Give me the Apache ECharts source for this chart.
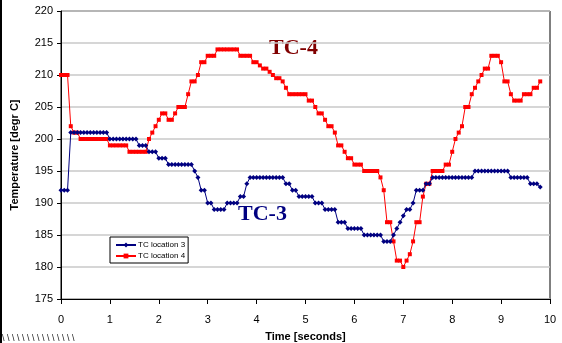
<!DOCTYPE html>
<html>
<head>
<meta charset="utf-8">
<script src="https://cdn.jsdelivr.net/npm/echarts@6/dist/echarts.min.js"></script>
<style>
  html, body { margin: 0; padding: 0; background: #fff; }
  #chart { width: 562px; height: 343px; }
</style>
</head>
<body>
<div id="chart"></div>
<script>
// Thermocouple readings, sampled every 1/15 s from t = 0 to 9.8 s
const sampleStep = 1 / 15;

const tcLocation3 = [
  192, 192, 192,
  201, 201, 201, 201, 201, 201, 201, 201, 201, 201, 201, 201,
  200, 200, 200, 200, 200, 200, 200, 200, 200,
  199, 199, 199,
  198, 198, 198,
  197, 197, 197,
  196, 196, 196, 196, 196, 196, 196, 196,
  195, 194, 192, 192, 190, 190,
  189, 189, 189, 189,
  190, 190, 190, 190,
  191, 191, 193,
  194, 194, 194, 194, 194, 194, 194, 194, 194, 194, 194,
  193, 193, 192, 192,
  191, 191, 191, 191, 191,
  190, 190, 190,
  189, 189, 189, 189,
  187, 187, 187,
  186, 186, 186, 186, 186,
  185, 185, 185, 185, 185, 185,
  184, 184, 184,
  185, 186, 187, 188, 189, 189, 190,
  192, 192, 192, 193, 193,
  194, 194, 194, 194, 194, 194, 194, 194, 194, 194, 194, 194, 194,
  195, 195, 195, 195, 195, 195, 195, 195, 195, 195, 195,
  194, 194, 194, 194, 194, 194,
  193, 193, 193,
  192.5
];

const tcLocation4 = [
  210, 210, 210,
  202, 201, 201,
  200, 200, 200, 200, 200, 200, 200, 200, 200,
  199, 199, 199, 199, 199, 199,
  198, 198, 198, 198, 198, 198,
  200, 201, 202, 203, 204, 204, 203, 203, 204,
  205, 205, 205, 207, 209, 209, 210, 212, 212,
  213, 213, 213,
  214, 214, 214, 214, 214, 214, 214,
  213, 213, 213, 213,
  212, 212, 211.5, 211, 211, 210.5, 210, 209.5, 209.5, 209, 208,
  207, 207, 207, 207, 207, 207,
  206, 206, 205, 204, 204, 203, 202, 202, 201,
  199, 199, 198, 197, 197,
  196, 196, 196,
  195, 195, 195, 195, 195,
  194, 192, 187, 187, 184, 181, 181, 180, 181, 182, 184, 187, 187, 191,
  193, 193, 195, 195, 195, 195, 196, 196, 198, 200, 201, 202,
  205, 205, 207, 208, 209, 210, 211, 211,
  213, 213, 213, 212, 209, 209, 207,
  206, 206, 206, 207, 207, 207, 208, 208, 209
];

const xTicks = { min: 0, max: 10, step: 1 };
const yTicks = { min: 175, max: 220, step: 5 };

const toPairs = vals => vals.map((v, i) => [+(i * sampleStep).toFixed(4), v]);

const FONT = '"Liberation Sans", Arial, sans-serif';
const SERIF = '"Liberation Serif", "Times New Roman", serif';

const chart = echarts.init(document.getElementById('chart'), null, { renderer: 'canvas' });

chart.setOption({
  animation: false,
  backgroundColor: '#ffffff',
  grid: {
    left: 61, right: 12, top: 11, bottom: 44,
    containLabel: false,
    outerBoundsMode: 'none',
    show: true, borderColor: '#000000', borderWidth: 1, backgroundColor: 'transparent'
  },
  xAxis: {
    type: 'value',
    min: xTicks.min, max: xTicks.max, interval: xTicks.step,
    name: 'Time [seconds]',
    nameLocation: 'middle',
    nameGap: 32,
    nameTextStyle: { fontFamily: FONT, fontSize: 11, fontWeight: 'bold', color: '#000' },
    axisLine: { lineStyle: { color: '#000', width: 1 } },
    axisTick: { show: true, inside: false, length: 5, lineStyle: { color: '#000' } },
    axisLabel: { fontFamily: FONT, fontSize: 11, color: '#000', margin: 15 },
    splitLine: { show: false }
  },
  yAxis: {
    type: 'value',
    min: yTicks.min, max: yTicks.max, interval: yTicks.step,
    name: 'Temperature [degr C]',
    nameLocation: 'middle',
    nameGap: 41,
    nameRotate: 90,
    nameTextStyle: { fontFamily: FONT, fontSize: 11, fontWeight: 'bold', color: '#000' },
    axisLine: { show: true, lineStyle: { color: '#000', width: 1 } },
    axisTick: { show: true, inside: false, length: 4, lineStyle: { color: '#000' } },
    axisLabel: { fontFamily: FONT, fontSize: 11, color: '#000', margin: 8 },
    splitLine: { show: true, lineStyle: { color: '#c8c8c8', width: 1.5 } }
  },
  legend: {
    orient: 'vertical',
    left: 110, top: 237,
    itemWidth: 20, itemHeight: 6, itemGap: 3,
    padding: [4, 3, 3, 5],
    borderColor: '#000', borderWidth: 1, backgroundColor: '#fff',
    textStyle: { fontFamily: FONT, fontSize: 8, color: '#000', padding: [0, 0, 0, -3] },
    data: ['TC location 3', 'TC location 4']
  },
  series: [
    {
      name: 'TC location 3',
      type: 'line',
      data: toPairs(tcLocation3),
      symbol: 'diamond', symbolSize: 5, showAllSymbol: true,
      lineStyle: { color: '#000080', width: 1 },
      itemStyle: { color: '#000080' },
      z: 3
    },
    {
      name: 'TC location 4',
      type: 'line',
      data: toPairs(tcLocation4),
      symbol: 'rect', symbolSize: 4, showAllSymbol: true,
      lineStyle: { color: '#ff0000', width: 1 },
      itemStyle: { color: '#ff0000' },
      z: 2
    }
  ],
  graphic: [
    { type: 'text', left: 269, top: 37,
      style: { text: 'TC-4', font: 'bold 22px ' + SERIF, fill: '#800000' } },
    { type: 'text', left: 238, top: 203,
      style: { text: 'TC-3', font: 'bold 22px ' + SERIF, fill: '#000080' } },
    { type: 'line', shape: { x1: 1, y1: 0, x2: 1, y2: 343 },
      style: { stroke: '#000', lineWidth: 2 } },
    { type: 'text', left: 2, top: 334,
      style: { text: '\\ \\ \\ \\ \\ \\ \\ \\ \\ \\ \\ \\ \\ \\ \\', font: '9px ' + FONT, fill: '#222' } }
  ]
});
</script>
</body>
</html>
